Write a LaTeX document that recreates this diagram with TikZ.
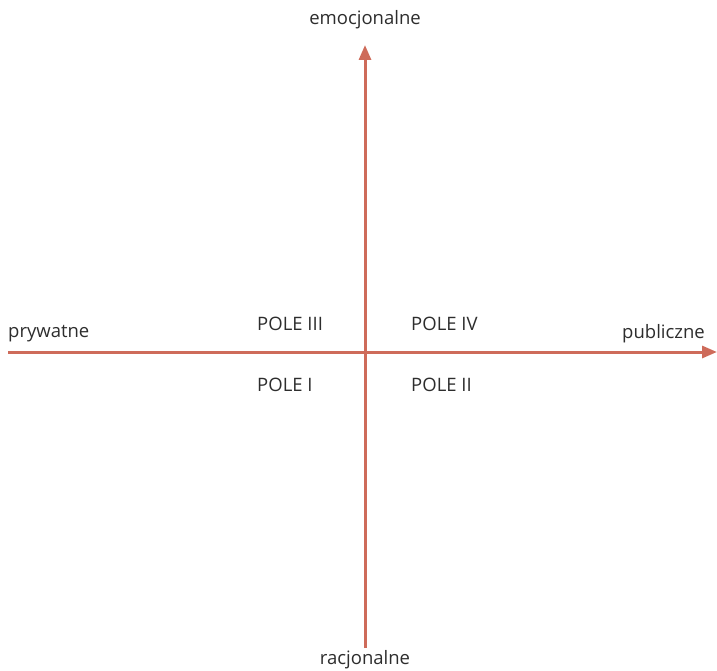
\documentclass[tikz,border=0pt]{standalone}
\usepackage{fontspec}
\setmainfont{Open Sans}
\usetikzlibrary{arrows.meta, positioning}
\definecolor{axisred}{RGB}{206, 107, 90}
\definecolor{labelgray}{RGB}{45, 45, 45}

\begin{document}
\begin{tikzpicture}[
    x=1pt, y=-1pt,
    % Node styles
    axis/.style={
        -{Triangle[length=15pt, width=12pt]},
        line width=3pt,
        color=axisred
    },
    axislabel/.style={
        font=\fontsize{18.5}{22}\selectfont,
        color=labelgray,
        inner sep=0pt
    },
    fieldlabel/.style={
        font=\fontsize{18.5}{22}\selectfont,
        color=labelgray,
        inner sep=0pt,
        anchor=west
    }
]
\useasboundingbox (0, 0) rectangle (717, 671);

% ============================================
% AXES
% ============================================
\coordinate (private) at (8, 352);
\coordinate (public) at (717, 352);
\coordinate (rational) at (365, 648);
\coordinate (emotional) at (365, 45);

\draw[axis] (private) -- (public);
\draw[axis] (rational) -- (emotional);

% ============================================
% AXIS LABELS
% ============================================
\node[axislabel] (emo) at (365, 20) {emocjonalne};
\node[axislabel] (rac) at (365, 660) {racjonalne};
\node[axislabel, anchor=west] (pry) at (8, 334) {prywatne};
\node[axislabel, anchor=east] (pub) at (705, 334) {publiczne};

% ============================================
% FIELDS
% ============================================
\node[fieldlabel] (pole3) at (257, 324) {POLE III};
\node[fieldlabel] (pole4) at (411, 324) {POLE IV};
\node[fieldlabel] (pole1) at (257, 385) {POLE I};
\node[fieldlabel] (pole2) at (411, 385) {POLE II};

\end{tikzpicture}
\end{document}
